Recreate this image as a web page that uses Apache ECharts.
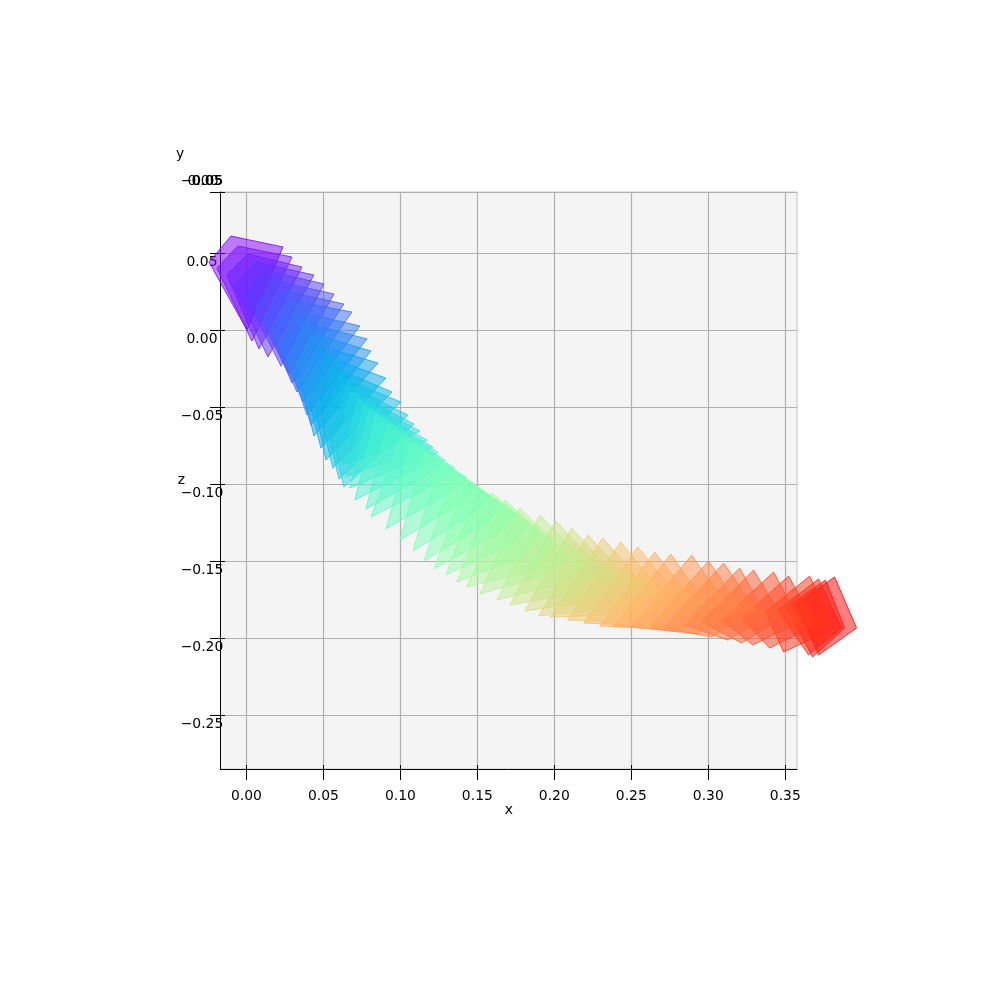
<!DOCTYPE html>
<html>
<head>
<meta charset="utf-8">
<style>html,body{margin:0;padding:0;background:#fff}#c{width:990px;height:989px}</style>
<script src="https://cdn.jsdelivr.net/npm/echarts@6/dist/echarts.min.js"></script>
</head>
<body>
<div id="c"></div>
<script>
var xTicks = [0, 0.05, 0.10, 0.15, 0.20, 0.25, 0.30, 0.35];
var zTicks = [0.05, 0, -0.05, -0.10, -0.15, -0.20, -0.25];
var yTickLabels = ['\u22120.05', '0.00', '0.05'];

var topX = [-0.0100,-0.0055,0.0010,0.0062,0.0114,0.0166,0.0218,0.0270,0.0322,0.0367,0.0413,0.0465,0.0517,0.0562,0.0607,0.0653,0.0679,0.0724,0.0763,0.0802,0.0841,0.0919,0.1010,0.1068,0.1159,0.1256,0.1347,0.1432,0.1510,0.1594,0.1678,0.1776,0.1905,0.2009,0.2113,0.2217,0.2314,0.2431,0.2542,0.2652,0.2756,0.2892,0.3002,0.3100,0.3203,0.3294,0.3424,0.3521,0.3658,0.3716,0.3761,0.3820];
var topZ = [0.0610,0.0545,0.0493,0.0441,0.0389,0.0324,0.0260,0.0195,0.0123,0.0052,-0.0019,-0.0097,-0.0169,-0.0240,-0.0305,-0.0357,-0.0402,-0.0448,-0.0487,-0.0519,-0.0552,-0.0610,-0.0681,-0.0727,-0.0792,-0.0857,-0.0928,-0.0973,-0.1019,-0.1058,-0.1103,-0.1155,-0.1201,-0.1240,-0.1285,-0.1330,-0.1350,-0.1376,-0.1408,-0.1441,-0.1454,-0.1460,-0.1499,-0.1512,-0.1545,-0.1558,-0.1571,-0.1597,-0.1597,-0.1616,-0.1623,-0.1603];
var rightX = [0.0238,0.0296,0.0361,0.0439,0.0504,0.0569,0.0633,0.0685,0.0737,0.0783,0.0809,0.0854,0.0906,0.0945,0.1003,0.1049,0.1088,0.1127,0.1172,0.1211,0.1243,0.1289,0.1354,0.1425,0.1503,0.1581,0.1665,0.1750,0.1828,0.1912,0.1996,0.2107,0.2223,0.2314,0.2399,0.2490,0.2574,0.2671,0.2775,0.2879,0.2970,0.3100,0.3210,0.3307,0.3385,0.3483,0.3593,0.3697,0.3820,0.3865,0.3885,0.3963];
var rightZ = [0.0539,0.0474,0.0409,0.0357,0.0299,0.0234,0.0169,0.0117,0.0026,-0.0058,-0.0136,-0.0214,-0.0312,-0.0402,-0.0467,-0.0552,-0.0610,-0.0655,-0.0714,-0.0759,-0.0792,-0.0844,-0.0896,-0.0954,-0.1012,-0.1077,-0.1136,-0.1194,-0.1259,-0.1324,-0.1389,-0.1480,-0.1525,-0.1564,-0.1603,-0.1629,-0.1648,-0.1674,-0.1700,-0.1733,-0.1759,-0.1765,-0.1804,-0.1817,-0.1863,-0.1869,-0.1895,-0.1915,-0.1934,-0.1934,-0.1934,-0.1934];
var lowerX = [0.0004,0.0036,0.0082,0.0140,0.0225,0.0276,0.0296,0.0328,0.0367,0.0393,0.0419,0.0439,0.0484,0.0517,0.0562,0.0601,0.0633,0.0867,0.0945,0.1010,0.1081,0.1159,0.1237,0.1315,0.1393,0.1471,0.1555,0.1639,0.1724,0.1802,0.1873,0.1938,0.2009,0.2074,0.2152,0.2230,0.2321,0.2412,0.2503,0.2613,0.2717,0.2814,0.2924,0.3022,0.3126,0.3216,0.3288,0.3398,0.3489,0.3651,0.3677,0.3716];
var lowerZ = [0.0000,-0.0071,-0.0123,-0.0175,-0.0234,-0.0286,-0.0344,-0.0402,-0.0467,-0.0552,-0.0617,-0.0688,-0.0766,-0.0844,-0.0896,-0.0967,-0.1019,-0.0792,-0.0844,-0.0883,-0.0909,-0.0948,-0.0993,-0.1058,-0.1123,-0.1194,-0.1259,-0.1317,-0.1389,-0.1467,-0.1558,-0.1590,-0.1655,-0.1720,-0.1772,-0.1817,-0.1850,-0.1895,-0.1915,-0.1934,-0.1947,-0.1960,-0.1973,-0.1992,-0.2012,-0.2031,-0.2044,-0.2064,-0.2090,-0.2109,-0.2122,-0.2109];
var leftX = [-0.0243,-0.0191,-0.0126,-0.0080,-0.0009,0.0056,0.0121,0.0166,0.0218,0.0270,0.0322,0.0361,0.0406,0.0452,0.0497,0.0543,0.0582,0.0620,0.0653,0.0672,0.0705,0.0776,0.0809,0.0906,0.0997,0.1081,0.1153,0.1218,0.1295,0.1367,0.1432,0.1516,0.1627,0.1711,0.1808,0.1899,0.1977,0.2087,0.2191,0.2295,0.2386,0.2503,0.2613,0.2717,0.2847,0.2957,0.3087,0.3216,0.3372,0.3450,0.3508,0.3573];
var leftZ = [0.0441,0.0402,0.0357,0.0292,0.0227,0.0143,0.0065,-0.0013,-0.0097,-0.0182,-0.0273,-0.0363,-0.0454,-0.0539,-0.0623,-0.0714,-0.0792,-0.0876,-0.0948,-0.1025,-0.1103,-0.1162,-0.1214,-0.1291,-0.1363,-0.1434,-0.1499,-0.1551,-0.1590,-0.1635,-0.1668,-0.1713,-0.1752,-0.1785,-0.1824,-0.1856,-0.1863,-0.1882,-0.1901,-0.1921,-0.1921,-0.1927,-0.1934,-0.1934,-0.1915,-0.1895,-0.1882,-0.1869,-0.1830,-0.1817,-0.1798,-0.1778];

var xMin = -0.0168, xMax = 0.3576, zMin = -0.2849, zMax = 0.0896;
var FONT = 'DejaVu Sans';
var FS = 13.9;

function rainbow(t) {
  var r = Math.min(1, Math.abs(2 * t - 0.5));
  var g = Math.sin(Math.PI * t);
  var b = Math.cos(Math.PI * t / 2);
  return [Math.round(r * 255), Math.round(g * 255), Math.round(b * 255)];
}
var midIndex = (topX.length - 1) / 2;
var rows = topX.map(function (v, i) {
  return [i, v, topZ[i], rightX[i], rightZ[i], lowerX[i], lowerZ[i], leftX[i], leftZ[i]];
}).sort(function (a, b) {
  return Math.abs(b[0] - midIndex) - Math.abs(a[0] - midIndex);
});
function fmt(v) { return v.toFixed(2).replace('-', '\u2212'); }

var baseAxis = {
  axisLine: { show: true, onZero: false, lineStyle: { color: '#000', width: 1 } },
  splitLine: { show: true, lineStyle: { color: '#b0b0b0', width: 1.2 } }
};
var chart = echarts.init(document.getElementById('c'), null, { renderer: 'canvas' });
chart.setOption({
  animation: false,
  backgroundColor: '#ffffff',
  grid: { left: 220.5, right: 193, top: 192, bottom: 220, show: true, backgroundColor: '#f4f4f4', borderColor: '#c4c4c4', borderWidth: 1 },
  xAxis: [
    Object.assign({}, baseAxis, {
      type: 'value', min: xMin, max: xMax, position: 'bottom',
      name: 'x', nameLocation: 'middle', nameGap: 34, nameMoveOverlap: false,
      nameTextStyle: { color: '#000', fontFamily: FONT, fontSize: FS },
      axisTick: { show: true, length: 11, customValues: xTicks, lineStyle: { color: '#000' } },
      axisLabel: { show: true, margin: 20, customValues: xTicks, formatter: fmt, color: '#000', fontFamily: FONT, fontSize: FS, hideOverlap: false }
    }),
    {
      type: 'value', min: xMin, max: xMax, position: 'bottom',
      axisLine: { show: false, onZero: false }, splitLine: { show: false },
      axisTick: { show: true, inside: true, length: 4, customValues: xTicks, lineStyle: { color: '#000' } },
      axisLabel: { show: false }
    }
  ],
  yAxis: [
    Object.assign({}, baseAxis, {
      type: 'value', min: zMin, max: zMax, position: 'left',
      name: 'z', nameLocation: 'middle', nameGap: 35.5, nameRotate: 0, nameMoveOverlap: false,
      nameTextStyle: { color: '#000', fontFamily: FONT, fontSize: FS, padding: [3, 0, 0, 0] },
      axisTick: { show: true, length: 10.5, customValues: zTicks.concat([zMax]), lineStyle: { color: '#000' } },
      axisLabel: { show: true, margin: 18.5, align: 'center', customValues: zTicks, formatter: fmt, color: '#000', fontFamily: FONT, fontSize: FS, verticalAlign: 'top', lineHeight: 18, hideOverlap: false }
    }),
    {
      type: 'value', min: zMin, max: zMax, position: 'left',
      axisLine: { show: false, onZero: false }, splitLine: { show: false },
      axisTick: { show: true, inside: true, length: 4.5, customValues: zTicks.concat([zMax]), lineStyle: { color: '#000' } },
      axisLabel: { show: false }
    }
  ],
  series: [{
    type: 'custom',
    coordinateSystem: 'cartesian2d',
    xAxisIndex: 0, yAxisIndex: 0,
    clip: false,
    z: 5,
    encode: { x: [1, 3, 5, 7], y: [2, 4, 6, 8] },
    data: rows,
    renderItem: function (params, api) {
      var pts = [];
      for (var k = 1; k <= 7; k += 2) pts.push(api.coord([api.value(k), api.value(k + 1)]));
      var c = rainbow(api.value(0) / (rows.length - 1));
      return {
        type: 'polygon',
        shape: { points: pts },
        style: {
          fill: 'rgba(' + c.join(',') + ',0.5)',
          stroke: 'rgba(' + c.join(',') + ',0.8)',
          lineWidth: 1
        }
      };
    }
  }],
  graphic: [
    { type: 'text', x: 176, y: 147, z: 100, style: { text: 'y', fill: '#000', font: FS + 'px "' + FONT + '"' } },
    { type: 'text', x: 202, y: 181.5, z: 100, style: { text: yTickLabels[0], fill: '#000', font: FS + 'px "' + FONT + '"', textAlign: 'center', textVerticalAlign: 'middle' } },
    { type: 'text', x: 203, y: 181.5, z: 100, style: { text: yTickLabels[1], fill: '#000', font: FS + 'px "' + FONT + '"', textAlign: 'center', textVerticalAlign: 'middle' } },
    { type: 'text', x: 207, y: 181.5, z: 100, style: { text: yTickLabels[2], fill: '#000', font: FS + 'px "' + FONT + '"', textAlign: 'center', textVerticalAlign: 'middle' } }
  ]
});
</script>
</body>
</html>
